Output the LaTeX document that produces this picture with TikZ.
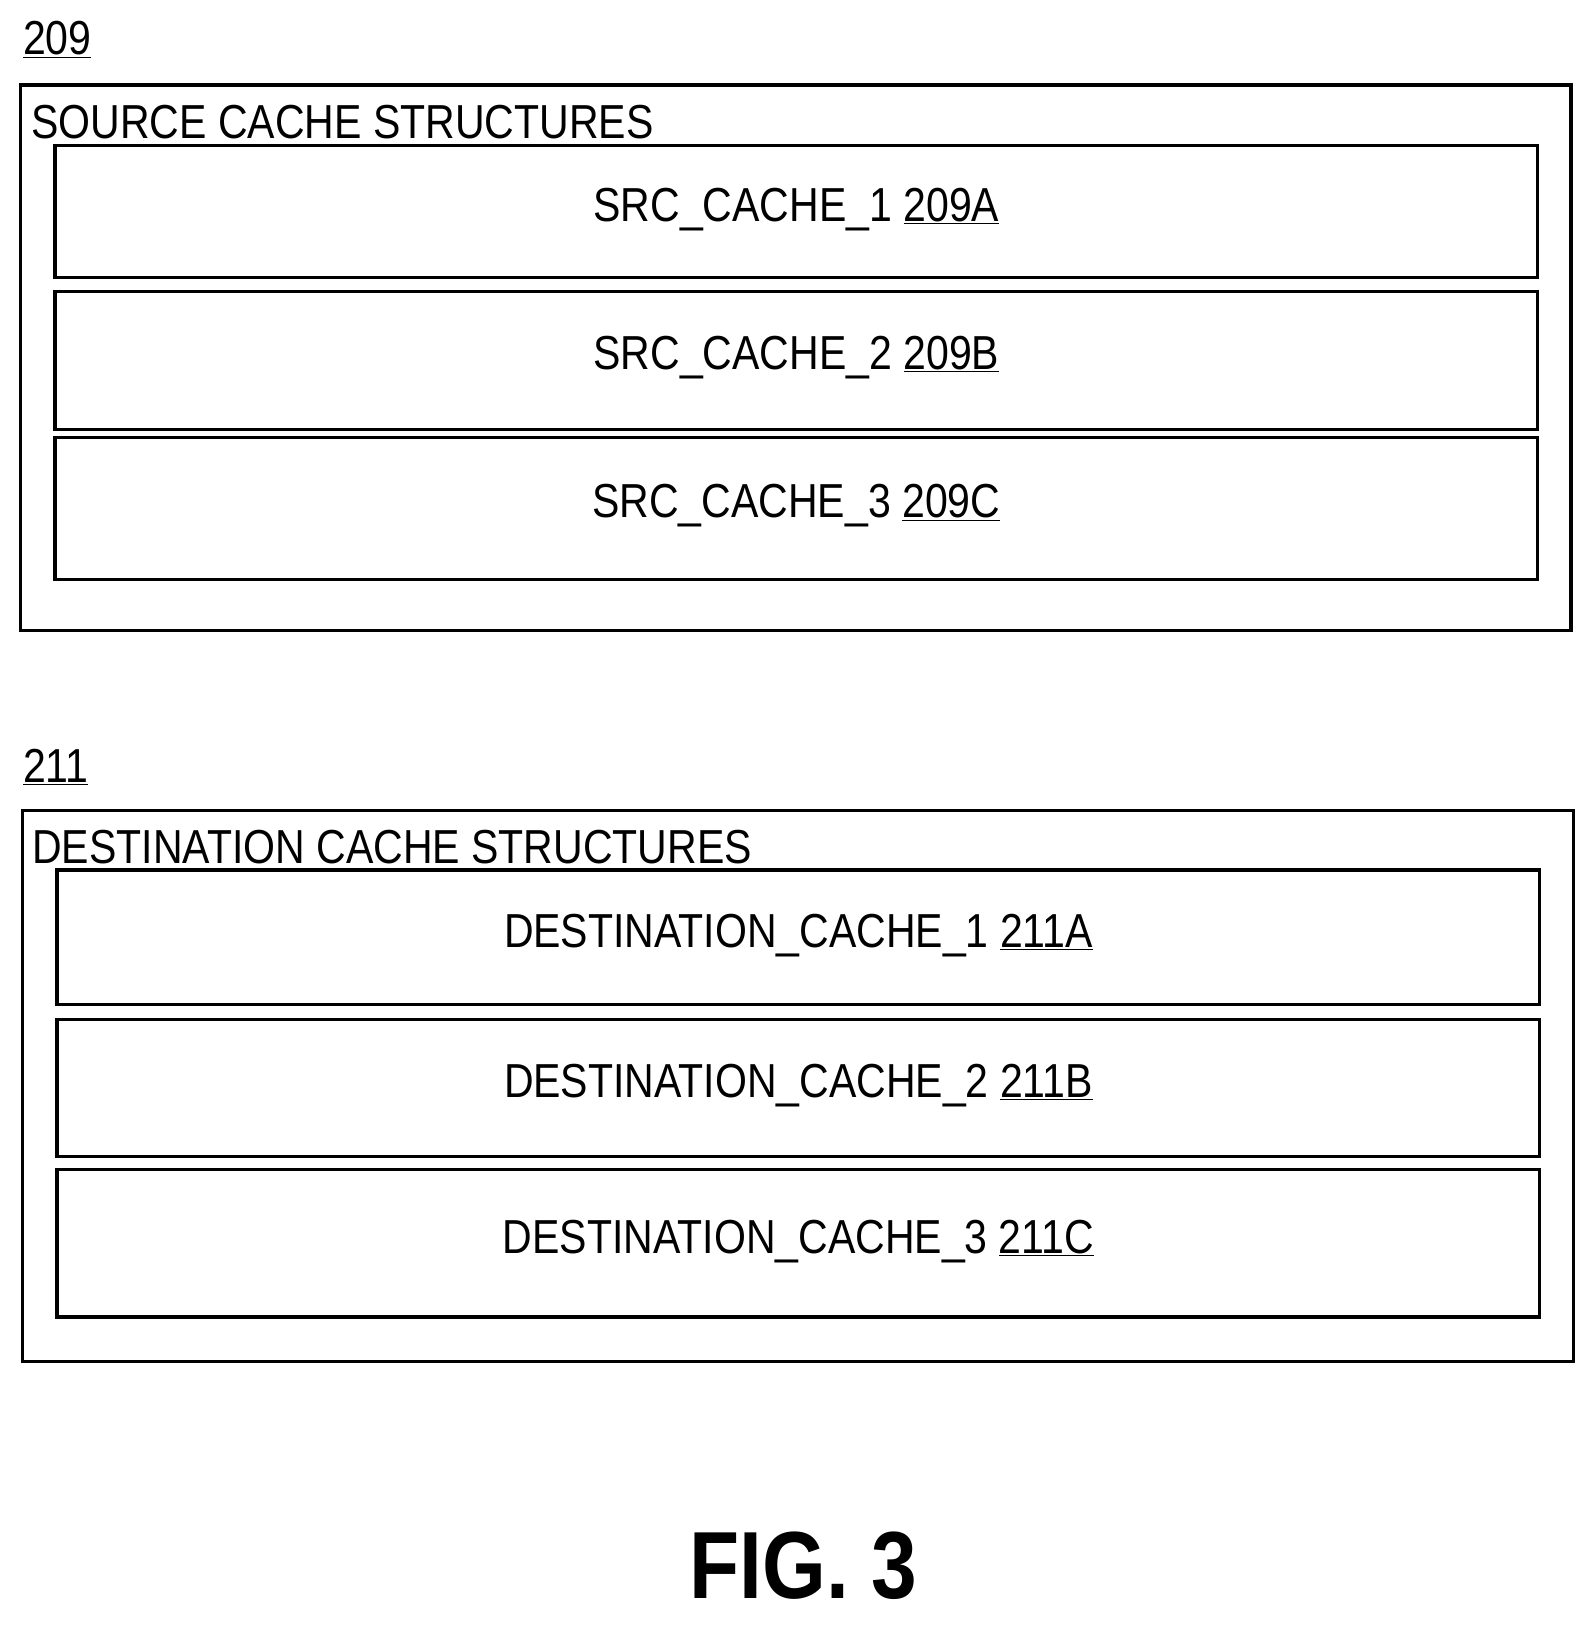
\documentclass[tikz,border=0pt]{standalone}
\usepackage{fontspec}
\setmainfont{Liberation Sans}[FakeStretch=0.86]
\begin{document}
\begin{tikzpicture}[x=1pt,y=-1pt,
  box/.style={draw,line width=3pt},
  lbl/.style={font=\fontsize{46}{50}\selectfont,inner sep=0pt},
  ul/.style={lbl,anchor=west}]
\useasboundingbox (0,0) rectangle (1538,1569);
\node[ul] (n209) at (22,38) {\underline{209}};
\draw[box] (20,82) rectangle (1515,608);
\node[ul] (t1) at (30,118) {SOURCE CACHE STRUCTURES};
\draw[box] (53,140) rectangle (1483,268); \node[lbl] (a) at (768,202) {SRC\_CACHE\_1 \underline{209A}};
\draw[box] (53,281) rectangle (1483,414); \node[lbl] (b) at (768,345) {SRC\_CACHE\_2 \underline{209B}};
\draw[box] (53,422) rectangle (1483,559); \node[lbl] (c) at (768,488) {SRC\_CACHE\_3 \underline{209C}};
\node[ul] (n211) at (22,740) {\underline{211}};
\draw[box] (22,782) rectangle (1517,1313);
\node[ul] (t2) at (31,817) {DESTINATION CACHE STRUCTURES};
\draw[box] (55,839) rectangle (1485,969); \node[lbl] (d) at (770,902) {DESTINATION\_CACHE\_1 \underline{211A}};
\draw[box] (55,983) rectangle (1485,1115); \node[lbl] (e) at (770,1047) {DESTINATION\_CACHE\_2 \underline{211B}};
\draw[box] (55,1128) rectangle (1485,1270); \node[lbl] (f) at (770,1197) {DESTINATION\_CACHE\_3 \underline{211C}};
\node[inner sep=0pt,font=\fontsize{92}{96}\selectfont\bfseries] (fig) at (775,1510) {FIG. 3};
\end{tikzpicture}
\end{document}
